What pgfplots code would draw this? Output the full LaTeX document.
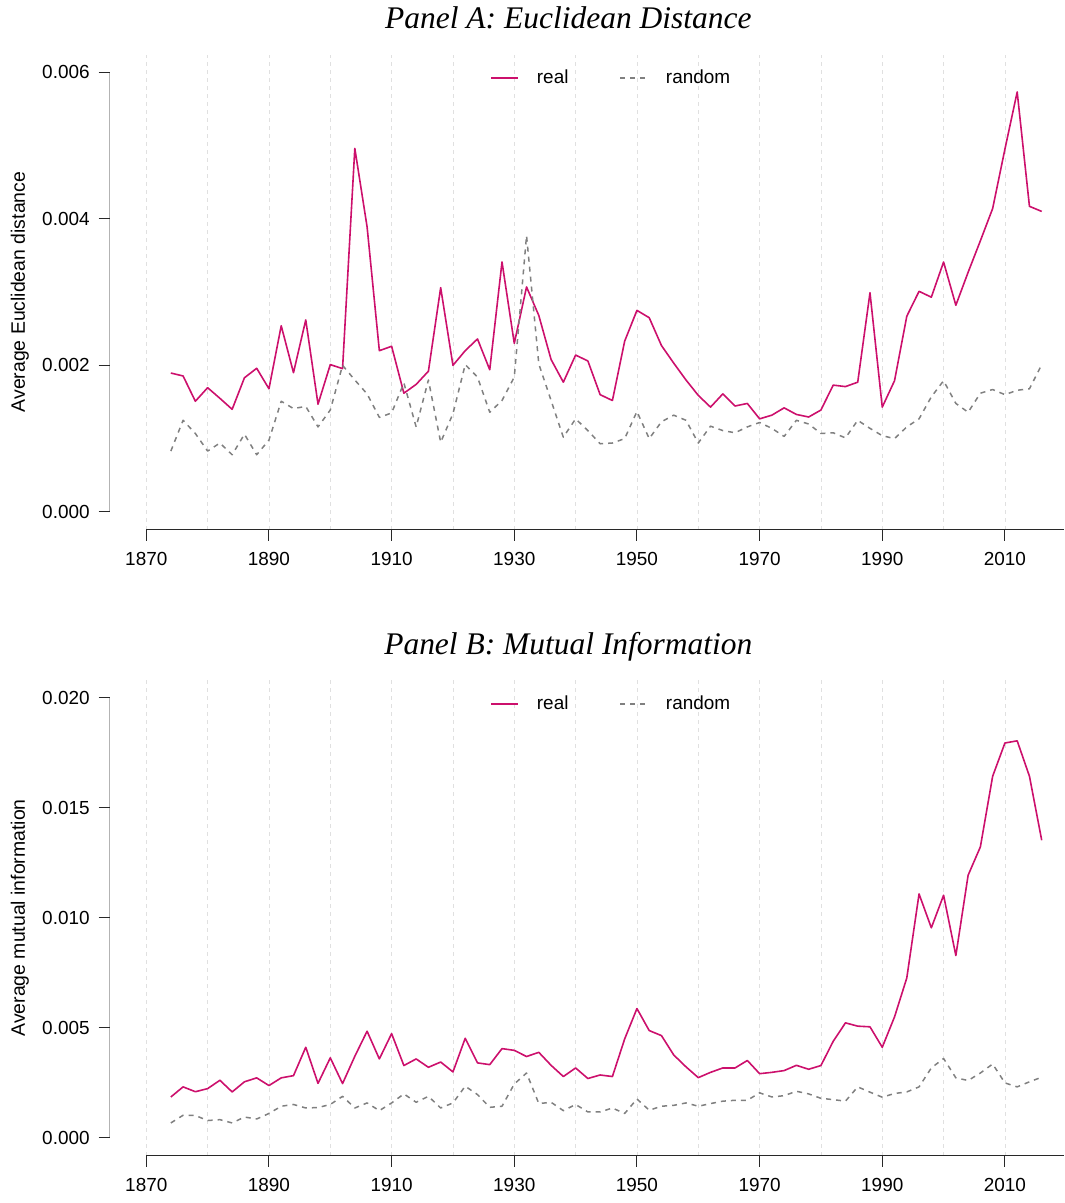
\documentclass[border=0pt]{standalone}
\usepackage{fontspec}
\setmainfont{Liberation Sans}
\newfontfamily\titlefont{Liberation Serif}
\usepackage{pgfplots}
\usepackage{pgfplotstable}
\pgfplotsset{compat=1.18}

\definecolor{realc}{RGB}{204,16,108}
\definecolor{randc}{RGB}{128,128,128}
\definecolor{gridc}{RGB}{224,224,224}
\definecolor{axc}{RGB}{40,40,40}

% Panel A: average Euclidean distance per period
\pgfplotstableread{
year real random
1874 0.001895 0.00083
1876 0.001855 0.00125
1878 0.00151 0.00107
1880 0.001695 0.00083
1882 0.00155 0.00094
1884 0.00140 0.00078
1886 0.00183 0.00106
1888 0.00196 0.00078
1890 0.00168 0.00098
1892 0.00254 0.00151
1894 0.00190 0.00141
1896 0.00262 0.00144
1898 0.00147 0.00116
1900 0.00201 0.00139
1902 0.001955 0.00200
1904 0.00496 0.00180
1906 0.00389 0.00161
1908 0.00220 0.00129
1910 0.00226 0.00135
1912 0.00162 0.00176
1914 0.00174 0.00116
1916 0.00192 0.00180
1918 0.00306 0.00095
1920 0.00200 0.00134
1922 0.00220 0.00201
1924 0.00236 0.00184
1926 0.00194 0.00136
1928 0.00341 0.00152
1930 0.00230 0.00184
1932 0.00307 0.00377
1934 0.00268 0.00202
1936 0.00208 0.00152
1938 0.00177 0.00102
1940 0.00214 0.00127
1942 0.00206 0.00111
1944 0.00160 0.00093
1946 0.00152 0.00094
1948 0.00233 0.00100
1950 0.00275 0.00137
1952 0.00265 0.00100
1954 0.00227 0.00123
1956 0.00203 0.00132
1958 0.00180 0.00125
1960 0.00159 0.00094
1962 0.00143 0.00117
1964 0.00161 0.00111
1966 0.001445 0.00108
1968 0.00148 0.00116
1970 0.00127 0.00122
1972 0.00132 0.00114
1974 0.00142 0.00103
1976 0.00133 0.00125
1978 0.001295 0.00120
1980 0.00139 0.00107
1982 0.00173 0.00108
1984 0.00171 0.00101
1986 0.00177 0.00125
1988 0.00299 0.00114
1990 0.00143 0.00104
1992 0.00179 0.00100
1994 0.00267 0.00116
1996 0.00301 0.00127
1998 0.00293 0.00157
2000 0.00341 0.00179
2002 0.00282 0.00148
2004 0.00327 0.00136
2006 0.00370 0.00162
2008 0.00414 0.00167
2010 0.00495 0.00160
2012 0.00573 0.00166
2014 0.00417 0.00168
2016 0.00410 0.00201
}\tableA

% Panel B: average mutual information per period
\pgfplotstableread{
year real random
1874 0.00186 0.00068
1876 0.00232 0.00103
1878 0.00210 0.00102
1880 0.00224 0.00079
1882 0.00262 0.00083
1884 0.00209 0.00068
1886 0.00255 0.00095
1888 0.00273 0.00086
1890 0.00238 0.00111
1892 0.00273 0.00144
1894 0.00283 0.00152
1896 0.00412 0.00136
1898 0.00248 0.00138
1900 0.00364 0.00152
1902 0.00247 0.00189
1904 0.00371 0.00136
1906 0.00485 0.00159
1908 0.00359 0.00124
1910 0.00474 0.00159
1912 0.00329 0.00200
1914 0.00359 0.00162
1916 0.00321 0.00189
1918 0.00345 0.00136
1920 0.00300 0.00159
1922 0.00453 0.00235
1924 0.00341 0.00197
1926 0.00333 0.00139
1928 0.00406 0.00144
1930 0.00398 0.00245
1932 0.00370 0.00295
1934 0.00389 0.00156
1936 0.00330 0.00162
1938 0.00279 0.00124
1940 0.00318 0.00152
1942 0.00270 0.00118
1944 0.00286 0.00118
1946 0.00279 0.00136
1948 0.00450 0.00111
1950 0.00588 0.00177
1952 0.00488 0.00126
1954 0.00465 0.00144
1956 0.00377 0.00148
1958 0.00323 0.00159
1960 0.00274 0.00144
1962 0.00298 0.00156
1964 0.00318 0.00167
1966 0.00318 0.00171
1968 0.00352 0.00171
1970 0.00292 0.00205
1972 0.00298 0.00186
1974 0.00306 0.00192
1976 0.00330 0.00212
1978 0.00312 0.00200
1980 0.00329 0.00180
1982 0.00439 0.00174
1984 0.00523 0.00167
1986 0.00508 0.00232
1988 0.00505 0.00208
1990 0.00412 0.00185
1992 0.00550 0.00202
1994 0.00727 0.00209
1996 0.01109 0.00232
1998 0.00955 0.00318
2000 0.01103 0.00361
2002 0.00829 0.00273
2004 0.01194 0.00261
2006 0.01323 0.00295
2008 0.01644 0.00336
2010 0.01795 0.00250
2012 0.01805 0.00232
2014 0.01644 0.00255
2016 0.01353 0.00276
}\tableB

\pgfplotsset{
  panel/.style={
    scale only axis,
    width=954.9bp,
    xmin=1864, xmax=2019.7,
    axis line style={draw=none},
    xtick={1870,1890,...,2010},
    minor xtick={1880,1900,...,2000},
    xmajorgrids, xminorgrids,
    major grid style={gridc, dash pattern=on 4bp off 4bp, line width=0.8bp},
    minor grid style={gridc, dash pattern=on 4bp off 4bp, line width=0.8bp},
    tick align=outside,
    tick pos=left,
    major tick length=11bp,
    minor tick length=0pt,
    every tick/.style={axc, line width=1bp},
    /pgf/number format/assume math mode=true,
    /pgf/number format/1000 sep={},
    scaled y ticks=false,
    ticklabel style={font=\fontsize{19}{22}\selectfont, inner sep=0pt},
    xticklabel style={yshift=-11.5bp},
    yticklabel style={xshift=-8.7bp},
    ylabel style={font=\fontsize{19.5}{23}\selectfont, at={(axis description cs:-0.0885,0.5)}, anchor=base},
    title style={font=\titlefont\itshape\fontsize{31.6}{36}\selectfont, at={(axis description cs:0.4805,1)}, anchor=base, yshift=20bp, inner sep=0pt},
    legend columns=2,
    legend cell align=left,
    legend image code/.code={\draw[##1] (0bp,0bp) -- (27bp,0bp);},
    legend style={draw=none, fill=none, inner sep=0pt, at={(axis description cs:0.3986,0.951)}, anchor=west,
      font=\fontsize{19}{22}\selectfont, nodes={inner sep=0pt},
      /tikz/every odd column/.append style={column sep=18bp},
      /tikz/every even column/.append style={column sep=51bp}},
  },
  realline/.style={realc, line width=1.6bp, line join=round},
  randline/.style={randc, line width=1.5bp, dash pattern=on 5bp off 5bp, line join=round},
}

\begin{document}
\begin{tikzpicture}
\useasboundingbox (0bp,0bp) rectangle (1065bp,-1203bp);

% Panel A
\begin{axis}[panel,
  at={(109.5bp,-529.5bp)}, anchor=south west,
  height=474.9bp,
  ymin=-0.00024, ymax=0.00624,
  ytick={0,0.002,0.004,0.006},
  yticklabels={0.000,0.002,0.004,0.006},
  ylabel={Average Euclidean distance},
  title={Panel A: Euclidean Distance}]
  \addplot[realline] table[x=year, y=real] {\tableA};
  \addlegendentry{real}
  \addplot[randline] table[x=year, y=random] {\tableA};
  \addlegendentry{random}
  \draw[axc, line width=1bp] (axis cs:1864,0) -- (axis cs:1864,0.006);
  \draw[axc, line width=1bp] (axis cs:1870,-0.00024) -- (axis cs:2019.7,-0.00024);
\end{axis}

% Panel B
\begin{axis}[panel,
  at={(109.5bp,-1155.5bp)}, anchor=south west,
  height=475.2bp,
  ymin=-0.0008, ymax=0.0208,
  ytick={0,0.005,0.010,0.015,0.020},
  yticklabels={0.000,0.005,0.010,0.015,0.020},
  ylabel={Average mutual information},
  title={Panel B: Mutual Information},
  legend style={at={(axis description cs:0.3986,0.9504)}}]
  \addplot[realline] table[x=year, y=real] {\tableB};
  \addlegendentry{real}
  \addplot[randline] table[x=year, y=random] {\tableB};
  \addlegendentry{random}
  \draw[axc, line width=1bp] (axis cs:1864,0) -- (axis cs:1864,0.020);
  \draw[axc, line width=1bp] (axis cs:1870,-0.0008) -- (axis cs:2019.7,-0.0008);
\end{axis}
\end{tikzpicture}
\end{document}
